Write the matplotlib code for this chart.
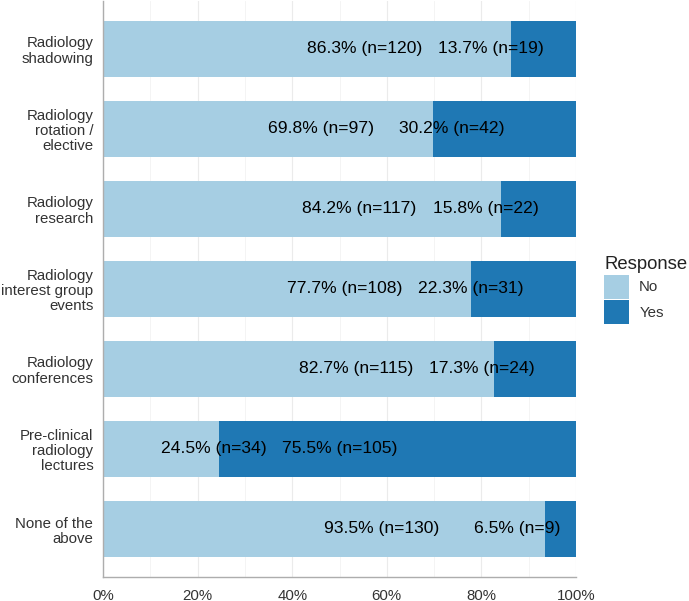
import matplotlib
matplotlib.use("Agg")
import matplotlib.pyplot as plt
import numpy as np
from matplotlib.patches import Patch

plt.rcParams['font.family'] = ['Liberation Sans', 'DejaVu Sans']

# categories, top to bottom
categories = [
    "Radiology\nshadowing",
    "Radiology\nrotation /\nelective",
    "Radiology\nresearch",
    "Radiology\ninterest group\nevents",
    "Radiology\nconferences",
    "Pre-clinical\nradiology\nlectures",
    "None of the\nabove",
]
n_no = [120, 97, 117, 108, 115, 34, 130]
n_yes = [19, 42, 22, 31, 24, 105, 9]
pct_no = [86.3, 69.8, 84.2, 77.7, 82.7, 24.5, 93.5]
pct_yes = [13.7, 30.2, 15.8, 22.3, 17.3, 75.5, 6.5]
x_ticks = [0, 20, 40, 60, 80, 100]

col_no = "#A6CEE3"
col_yes = "#1F78B4"

fig = plt.figure(figsize=(6.89, 6.01), dpi=100)
ax = fig.add_axes([103 / 689, 24 / 601, 473 / 689, 576 / 601])

y = np.arange(len(categories))
f_no = np.array(pct_no) / 100
f_yes = np.array(pct_yes) / 100

ax.barh(y, f_no, height=0.7, color=col_no, zorder=2)
ax.barh(y, f_yes, left=f_no, height=0.7, color=col_yes, zorder=2)

# labels: No left-aligned at its segment midpoint, Yes right-aligned at its midpoint
for i in range(len(categories)):
    ax.text(f_no[i] / 2, y[i], f"{pct_no[i]:.1f}% (n={n_no[i]})",
            ha="left", va="center", fontsize=12.6, color="black", zorder=3)
    ax.text(f_no[i] + f_yes[i] / 2, y[i], f"{pct_yes[i]:.1f}% (n={n_yes[i]})",
            ha="right", va="center", fontsize=12.6, color="black", zorder=3)

ax.set_xlim(0, 1)
ax.set_ylim(len(categories) - 0.4, -0.6)
ax.set_xticks(np.array(x_ticks) / 100)
ax.set_xticklabels([f"{t}%" for t in x_ticks])
ax.set_xticks(np.arange(0.1, 1.0, 0.2), minor=True)
ax.set_yticks(y)
ax.set_yticklabels(categories, linespacing=1.12)

ax.grid(axis="x", which="major", color="#EBEBEB", linewidth=0.8, zorder=0)
ax.grid(axis="x", which="minor", color="#F3F3F3", linewidth=0.6, zorder=0)
ax.set_axisbelow(True)

for s in ["top", "right"]:
    ax.spines[s].set_visible(False)
for s in ["left", "bottom"]:
    ax.spines[s].set_color("#ADADAD")
    ax.spines[s].set_linewidth(1.0)

ax.tick_params(axis="both", which="both", length=0, labelsize=10.8, colors="#333333")
ax.tick_params(axis="y", pad=7)
ax.tick_params(axis="x", pad=9)

handles = [Patch(facecolor=col_no, label="No"), Patch(facecolor=col_yes, label="Yes")]
leg = fig.legend(handles=handles, title="Response", loc="center left",
                 bbox_to_anchor=(604 / 689, 0.517), frameon=False, borderpad=0,
                 borderaxespad=0, fontsize=10.8, title_fontsize=13.3,
                 handlelength=1.65, handleheight=2.1, handletextpad=0.7,
                 labelspacing=0.1)
leg._legend_box.align = "left"
for t in leg.get_texts():
    t.set_color("#333333")
leg.get_title().set_color("#222222")

fig.savefig("out.png", dpi=100)
